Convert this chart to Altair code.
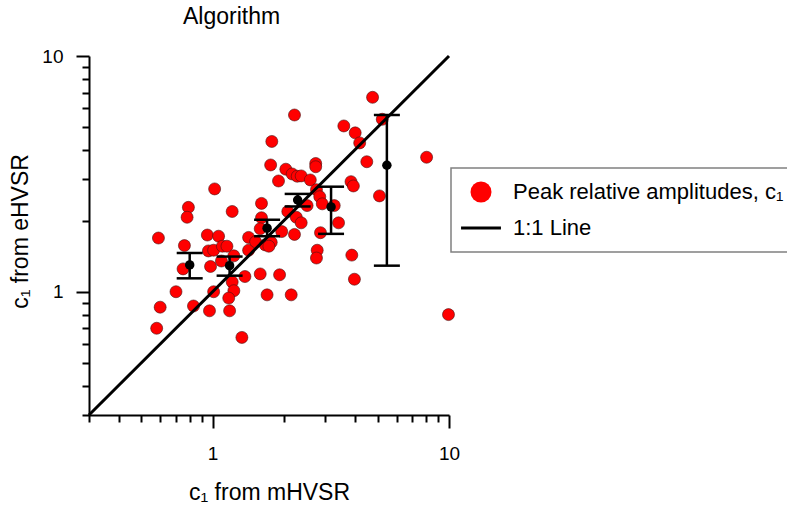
import altair as alt
import pandas as pd

FONT = "Liberation Sans"

# Peak relative amplitudes c1: mHVSR (x) vs eHVSR (y)
c1_mhvsr = [4.75, 2.22, 3.59, 4.01, 4.19, 1.78, 5.22, 8.04, 4.49, 1.76,
            2.73, 2.73, 2.04, 2.17, 2.28, 2.37, 2.59, 1.90, 3.85, 3.94,
            1.02, 2.75, 2.84, 2.91, 5.08, 1.61, 2.51, 3.27, 0.79, 1.21,
            2.08, 0.78, 1.61, 2.26, 2.37, 3.41, 1.59, 1.96, 2.22, 2.86,
            0.59, 0.95, 1.06, 1.42, 0.76, 0.96, 1.01, 1.10, 1.15, 1.23,
            1.42, 1.52, 1.67, 1.77, 1.73, 2.77, 2.75, 3.88, 0.75, 0.98,
            1.09, 1.37, 1.59, 1.92, 3.98, 1.21, 0.70, 1.01, 1.23, 1.70,
            2.15, 0.60, 0.83, 1.17, 0.97, 1.18, 0.58, 1.33, 9.95]
c1_ehvsr = [6.68, 5.62, 5.05, 4.72, 4.28, 4.34, 5.39, 3.72, 3.56, 3.45,
            3.50, 3.39, 3.31, 3.16, 3.09, 3.10, 2.98, 2.95, 2.93, 2.81,
            2.73, 2.71, 2.53, 2.36, 2.55, 2.37, 2.32, 2.32, 2.28, 2.19,
            2.19, 2.07, 2.06, 2.07, 1.96, 1.96, 1.85, 1.80, 1.75, 1.78,
            1.69, 1.74, 1.72, 1.70, 1.57, 1.49, 1.50, 1.56, 1.56, 1.42,
            1.50, 1.63, 1.58, 1.62, 1.56, 1.50, 1.39, 1.43, 1.25, 1.28,
            1.35, 1.16, 1.19, 1.18, 1.13, 1.10, 1.00, 1.00, 1.01, 0.97,
            0.97, 0.86, 0.87, 0.94, 0.83, 0.83, 0.70, 0.64, 0.80]

# Binned means with error bars
bin_x = [0.80, 1.18, 1.70, 2.29, 3.17, 5.46]
bin_mean = [1.30, 1.29, 1.86, 2.45, 2.29, 3.44]
bin_lo = [1.14, 1.17, 1.72, 2.30, 1.76, 1.29]
bin_hi = [1.46, 1.41, 2.02, 2.60, 2.79, 5.62]

# 1:1 line end points
line_vals = [0.3, 10]

tick_vals = [0.3, 0.4, 0.5, 0.6, 0.7, 0.8, 0.9, 1, 2, 3, 4, 5, 6, 7, 8, 9, 10]

SER_PTS = "Peak relative amplitudes, c\u2081"
SER_LINE = "1:1 Line"

pts = pd.DataFrame({"x": c1_mhvsr, "y": c1_ehvsr, "series": SER_PTS})
line = pd.DataFrame({"x": line_vals, "y": line_vals})
bins = pd.DataFrame({"x": bin_x, "m": bin_mean, "lo": bin_lo, "hi": bin_hi})

major = "datum.value == 1 || datum.value == 10"
lab = "datum.value == 1 ? '1' : (datum.value == 10 ? '10' : '')"

xscale = alt.Scale(type="log", domain=[0.3, 10], nice=False)
yscale = alt.Scale(type="log", domain=[0.3, 10], nice=False)

xaxis = alt.Axis(values=tick_vals, title="c\u2081 from mHVSR", labelExpr=lab,
                 tickSize={"condition": {"test": major, "value": 13}, "value": 7},
                 labelPadding=16, titleY=84, titleBaseline="alphabetic",
                 labelOverlap=False, labelFlush=False, labelBound=False)
yaxis = alt.Axis(values=tick_vals, title="c\u2081 from eHVSR", labelExpr=lab,
                 tickSize={"condition": {"test": major, "value": 13}, "value": 7},
                 labelPadding=13, titleX=-62, titleY=175, titleBaseline="alphabetic",
                 labelOverlap=False, labelFlush=False, labelBound=False)

leg = alt.Legend(title=None, orient="none", legendX=362, legendY=112,
                 direction="vertical", symbolSize=441, labelFontSize=22,
                 labelFont=FONT, labelColor="black", labelOffset=21,
                 labelLimit=500, padding=13, rowPadding=14,
                 strokeColor="#808080", fillColor="white",
                 symbolStrokeWidth=0, symbolOffset=6)

color = alt.Color("series:N", scale=alt.Scale(domain=[SER_PTS, SER_LINE], range=["#ff0000", "black"]), legend=leg)
shape = alt.Shape("series:N", scale=alt.Scale(domain=[SER_PTS, SER_LINE],
                  range=["circle", "M-1.9,-0.14H1.9V0.14H-1.9Z"]), legend=leg)

points = alt.Chart(pts).mark_point(filled=True, size=144, opacity=1, stroke="#4a1010", strokeWidth=0.6).encode(
    x=alt.X("x:Q", scale=xscale, axis=xaxis),
    y=alt.Y("y:Q", scale=yscale, axis=yaxis),
    color=color, shape=shape,
)

one = alt.Chart(line).mark_line(color="black", strokeWidth=3).encode(
    x=alt.X("x:Q", scale=xscale), y=alt.Y("y:Q", scale=yscale))

rules = alt.Chart(bins).mark_rule(color="black", strokeWidth=2.5).encode(
    x=alt.X("x:Q", scale=xscale), y=alt.Y("lo:Q", scale=yscale), y2="hi:Q")
cap_lo = alt.Chart(bins).mark_tick(color="black", orient="horizontal", size=26, thickness=2.5, opacity=1).encode(
    x=alt.X("x:Q", scale=xscale), y=alt.Y("lo:Q", scale=yscale))
cap_hi = alt.Chart(bins).mark_tick(color="black", orient="horizontal", size=26, thickness=2.5, opacity=1).encode(
    x=alt.X("x:Q", scale=xscale), y=alt.Y("hi:Q", scale=yscale))
means = alt.Chart(bins).mark_circle(color="black", size=90, opacity=1).encode(
    x=alt.X("x:Q", scale=xscale), y=alt.Y("m:Q", scale=yscale))

chart = alt.layer(points, one, rules, cap_lo, cap_hi, means).properties(
    width=360, height=359,
    padding={"left": 89, "top": 56, "right": 338, "bottom": 90},
    autosize=alt.AutoSizeParams(type="none"),
    title=alt.TitleParams("Algorithm", anchor="start", frame="group", dx=94, offset=0,
                          baseline="alphabetic", fontSize=23, font=FONT,
                          fontWeight="normal", color="black"),
).configure_view(stroke=None).configure_axis(
    grid=False, domainColor="black", domainWidth=2, tickColor="black", tickWidth=2,
    labelFont=FONT, labelFontSize=19, labelColor="black",
    titleFont=FONT, titleFontSize=23, titleFontWeight="normal", titleColor="black",
).configure_legend(strokeWidth=1.5)

chart.save("out.html", embed_options={"renderer": "svg", "actions": False})
